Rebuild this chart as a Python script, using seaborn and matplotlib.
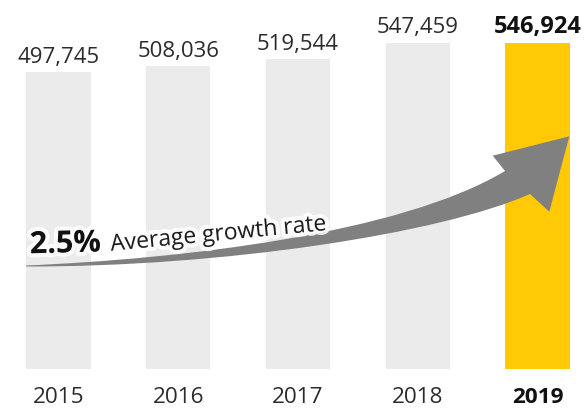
import matplotlib
matplotlib.use("Agg")
import matplotlib.pyplot as plt
from matplotlib.path import Path
from matplotlib.patches import PathPatch
import matplotlib.patheffects as pe
import seaborn as sns
import pandas as pd

# Annual totals
years = ["2015", "2016", "2017", "2018", "2019"]
totals = [497745, 508036, 519544, 547459, 546924]
total_labels = ["497,745", "508,036", "519,544", "547,459", "546,924"]
highlight_year = "2019"
growth_rate = "2.5%"
growth_caption = "Average growth rate"

sns.set_theme(style="white")
plt.rcParams["font.family"] = ["Open Sans", "DejaVu Sans"]

W, H = 585, 410
fig = plt.figure(figsize=(W / 100, H / 100), dpi=100)
fig.patch.set_facecolor("white")

bottom_px = 369.5
ax = fig.add_axes([0, 1 - bottom_px / H, 1, bottom_px / H])
ax.set_facecolor("white")

df = pd.DataFrame({"year": years, "total": totals})
palette = {y: ("#FFCA05" if y == highlight_year else "#EBEBEB") for y in years}
sns.barplot(data=df, x="year", y="total", hue="year", palette=palette,
            width=0.537, saturation=1, legend=False, linewidth=0, ax=ax)

ax.set_xlim(-0.4875, 4.396)
ax.set_ylim(0, bottom_px * 1680)
sns.despine(ax=ax, left=True, bottom=True)
ax.set_xlabel("")
ax.set_ylabel("")
ax.set_yticks([])

# Year labels under each bar
ax.set_xticks(range(len(years)))
ax.set_xticklabels(years)
ax.tick_params(axis="x", length=0, pad=24.2, labelsize=16.2, labelcolor="#2b2b2b")
for lbl in ax.get_xticklabels():
    lbl.set_va("baseline")
    if lbl.get_text() == highlight_year:
        lbl.set_fontweight("bold")
        lbl.set_color("#111111")

# Totals above each bar
for i, (v, txt) in enumerate(zip(totals, total_labels)):
    bold = years[i] == highlight_year
    ax.annotate(txt, xy=(i, v), xytext=(0, 7.6), textcoords="offset points",
                ha="center", va="baseline",
                fontsize=17 if bold else 16,
                fontweight="bold" if bold else "normal",
                color="#111111" if bold else "#2b2b2b")

# Curved growth arrow (figure pixel units, origin at top-left)
def px(x, y):
    return (x / W, 1 - y / H)

arrow_pts = [
    (26, 266.5), (180, 260), (400, 235), (505, 172),
    (492.7, 156.7), (569.3, 137.3), (549.3, 212.7), (530, 195),
    (440, 235), (220, 268), (26, 267.5), (26, 266.5),
]
codes = [Path.MOVETO, Path.CURVE4, Path.CURVE4, Path.CURVE4,
         Path.LINETO, Path.LINETO, Path.LINETO, Path.LINETO,
         Path.CURVE4, Path.CURVE4, Path.CURVE4, Path.CLOSEPOLY]
arrow = PathPatch(Path([px(x, y) for x, y in arrow_pts], codes),
                  transform=fig.transFigure, facecolor="#808080",
                  edgecolor="none", zorder=5)
fig.add_artist(arrow)

halo = [pe.withStroke(linewidth=6, foreground="white", alpha=0.85)]
fig.text(*px(30, 254.3), growth_rate, fontsize=22, fontweight="bold",
         color="#111111", ha="left", va="baseline", rotation=1.5,
         rotation_mode="anchor", zorder=6, path_effects=halo)
fig.text(*px(111, 251.8), growth_caption, fontsize=16.5, color="#1e1e1e",
         ha="left", va="baseline", rotation=5.5, rotation_mode="anchor",
         zorder=6, path_effects=halo)

fig.savefig("out.png", dpi=100, facecolor="white")
